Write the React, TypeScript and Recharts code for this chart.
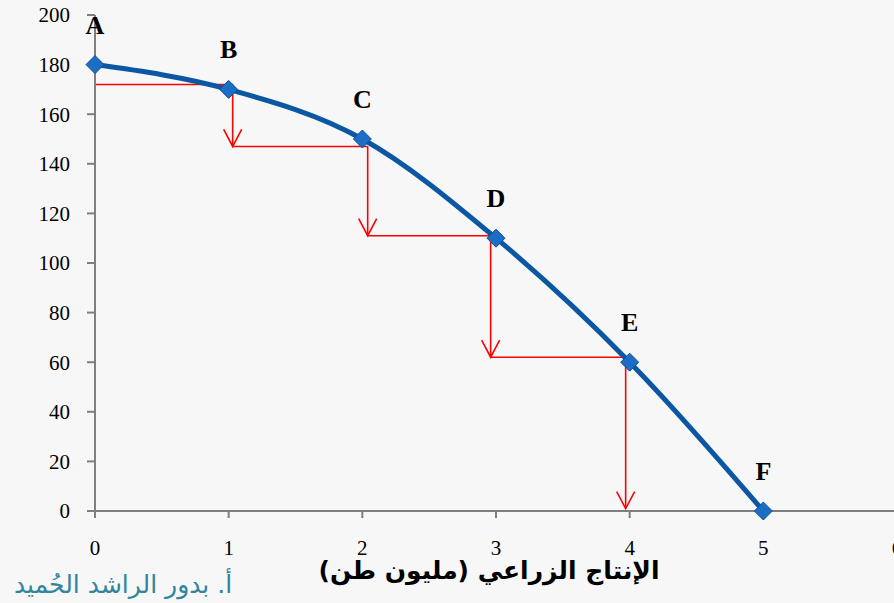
import { Label, LabelList, Line, LineChart, ReferenceLine, XAxis, YAxis } from 'recharts'

// production possibilities: agriculture (x) vs the other good (y)
const xValues = [0, 1, 2, 3, 4, 5]
const yValues = [180, 170, 150, 110, 60, 0]
const pointNames = ['A', 'B', 'C', 'D', 'E', 'F']
const xTicks = [0, 1, 2, 3, 4, 5, 6]
const yTicks = [0, 20, 40, 60, 80, 100, 120, 140, 160, 180, 200]

// red staircase (opportunity cost steps)
const stepX = [0, 1.03, 2.04, 2.96, 3.97]
const stepY = [172, 147, 111, 62, 1]

const RED = '#FF0000'
const AXIS = '#7f7f7f'

const data = xValues.map((x, i) => ({ x, y: yValues[i], name: pointNames[i] }))

function Diamond(props: any) {
  const { cx, cy } = props
  if (cx == null || cy == null) return null
  const r = 9
  return (
    <polygon
      key={`d-${cx}`}
      points={`${cx},${cy - r} ${cx + r},${cy} ${cx},${cy + r} ${cx - r},${cy}`}
      fill="#1C6DC6"
      stroke="#0E4F96"
      strokeWidth={1}
    />
  )
}

function ArrowDown(props: any) {
  const { x1, y1, x2, y2 } = props
  return (
    <g>
      <line x1={x1} y1={y1} x2={x2} y2={y2} stroke={RED} strokeWidth={1.6} />
      <polyline
        points={`${x2 - 9},${y2 - 17} ${x2},${y2} ${x2 + 9},${y2 - 17}`}
        fill="none"
        stroke={RED}
        strokeWidth={1.6}
      />
    </g>
  )
}

const tickFont = { fontSize: 21, fill: '#000', fontFamily: '"Liberation Serif", serif' }

export default function App() {
  return (
    <div
      style={{
        position: 'fixed',
        left: 0,
        top: 0,
        width: 894,
        height: 603,
        overflow: 'hidden',
        background: '#f7f7f7',
      }}
    >
      <LineChart
        width={910}
        height={603}
        data={data}
        margin={{ top: 15, right: 13, bottom: 12, left: 0 }}
      >
        <XAxis
          type="number"
          dataKey="x"
          domain={[0, 6]}
          ticks={xTicks}
          interval={0}
          stroke={AXIS}
          strokeWidth={2}
          tickSize={7}
          tickMargin={22}
          tick={tickFont}
          height={80}
        >
          <Label
            value="الإنتاج الزراعي (مليون طن)"
            position="insideBottom"
            offset={12}
            dx={-7}
            style={{ fontSize: 25, fontWeight: 'bold', fill: '#000', fontFamily: '"DejaVu Sans", sans-serif' }}
          />
        </XAxis>
        <YAxis
          type="number"
          domain={[0, 200]}
          ticks={yTicks}
          interval={0}
          stroke={AXIS}
          strokeWidth={2}
          tickSize={8}
          tickMargin={17}
          tick={tickFont}
          width={95}
        />
        {stepY.slice(0, -1).map((yv, i) => (
          <ReferenceLine
            key={`h-${i}`}
            segment={[
              { x: stepX[i], y: yv },
              { x: stepX[i + 1], y: yv },
            ]}
            stroke={RED}
            strokeWidth={1.6}
          />
        ))}
        {stepY.slice(0, -1).map((yv, i) => (
          <ReferenceLine
            key={`v-${i}`}
            segment={[
              { x: stepX[i + 1], y: yv },
              { x: stepX[i + 1], y: stepY[i + 1] },
            ]}
            shape={ArrowDown}
          />
        ))}
        <Line
          type="monotone"
          dataKey="y"
          stroke="#0B57A4"
          strokeWidth={5}
          dot={Diamond}
          activeDot={false}
          isAnimationActive={false}
        >
          <LabelList
            dataKey="name"
            position="top"
            offset={31}
            style={{ fontSize: 26, fontWeight: 'bold', fill: '#000', fontFamily: '"Liberation Serif", serif' }}
          />
        </Line>
      </LineChart>
      <div
        style={{
          position: 'absolute',
          left: 14,
          top: 570,
          fontSize: 25,
          color: '#31859C',
          fontFamily: '"DejaVu Sans", sans-serif',
          direction: 'rtl',
          whiteSpace: 'nowrap',
        }}
      >
        أ. بدور الراشد الحُميد
      </div>
    </div>
  )
}
